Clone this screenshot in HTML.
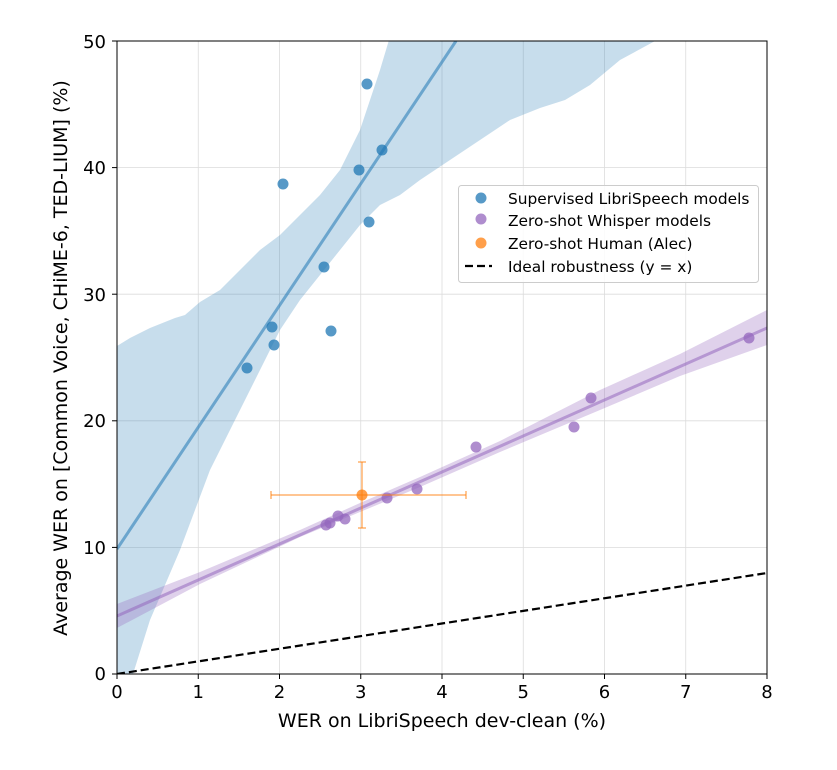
<!DOCTYPE html>
<html><head><style>body{margin:0;background:#fff}svg{display:block}text{font-family:"DejaVu Sans","Liberation Sans",sans-serif;fill:#000}</style></head>
<body>
<svg width="837" height="770" viewBox="0 0 837 770">
<defs><clipPath id="c"><rect x="117" y="41" width="650" height="633"/></clipPath></defs>
<g stroke="#dcdcdc" stroke-width="0.8">
<line x1="198.25" y1="41" x2="198.25" y2="674"/><line x1="279.5" y1="41" x2="279.5" y2="674"/><line x1="360.75" y1="41" x2="360.75" y2="674"/><line x1="442" y1="41" x2="442" y2="674"/><line x1="523.25" y1="41" x2="523.25" y2="674"/><line x1="604.5" y1="41" x2="604.5" y2="674"/><line x1="685.75" y1="41" x2="685.75" y2="674"/>
<line x1="117" y1="547.4" x2="767" y2="547.4"/><line x1="117" y1="420.8" x2="767" y2="420.8"/><line x1="117" y1="294.2" x2="767" y2="294.2"/><line x1="117" y1="167.6" x2="767" y2="167.6"/>
</g>
<g clip-path="url(#c)">
<polygon fill="#1f77b4" fill-opacity="0.25" points="117,346 130,338 150,328 175,318 185,315 200,302 220,290 240,270 260,250 280,235 300,215 320,195 340,170 350,150 360,130 370,100 380,70 392,30 700,30 655,41 620,60 590,85 565,100 540,108 510,120 480,140 450,160 420,180 400,195 380,205 360,225 340,250 320,275 300,300 280,330 260,370 240,410 210,470 180,550 150,620 133,674 117,700"/>
<line x1="117" y1="549" x2="456" y2="41" stroke="#1f77b4" stroke-opacity="0.55" stroke-width="3"/>
<polygon fill="#9467bd" fill-opacity="0.3" points="117,604 200,572 300,530 360,503 420,477 500,441 600,390 680,354 767,310 767,345 680,376 600,410 500,452 420,487 360,512 300,537 200,584 117,628"/>
<line x1="117" y1="616" x2="767" y2="328" stroke="#9467bd" stroke-opacity="0.55" stroke-width="3"/>
<line x1="117" y1="674" x2="767" y2="573" stroke="#000" stroke-width="2.2" stroke-dasharray="8,4"/>
</g>
<g fill="#1f77b4" fill-opacity="0.75">
<circle cx="247" cy="368" r="5.5"/><circle cx="272" cy="327" r="5.5"/><circle cx="274" cy="345" r="5.5"/><circle cx="283" cy="184" r="5.5"/><circle cx="324" cy="267" r="5.5"/><circle cx="331" cy="331" r="5.5"/><circle cx="359" cy="170" r="5.5"/><circle cx="367" cy="84" r="5.5"/><circle cx="369" cy="222" r="5.5"/><circle cx="382" cy="150" r="5.5"/>
</g>
<g fill="#9467bd" fill-opacity="0.75">
<circle cx="326" cy="525" r="5.5"/><circle cx="330" cy="523" r="5.5"/><circle cx="338" cy="516" r="5.5"/><circle cx="345" cy="519" r="5.5"/><circle cx="387" cy="498" r="5.5"/><circle cx="417" cy="489" r="5.5"/><circle cx="476" cy="447" r="5.5"/><circle cx="574" cy="427" r="5.5"/><circle cx="591" cy="398" r="5.5"/><circle cx="749" cy="338" r="5.5"/>
</g>
<g stroke="#ff7f0e" stroke-opacity="0.6" stroke-width="1.5">
<line x1="271" y1="495" x2="466" y2="495"/><line x1="271" y1="491" x2="271" y2="499"/><line x1="466" y1="491" x2="466" y2="499"/>
<line x1="362" y1="462" x2="362" y2="528"/><line x1="358" y1="462" x2="366" y2="462"/><line x1="358" y1="528" x2="366" y2="528"/>
</g>
<circle cx="362" cy="495" r="5.5" fill="#ff7f0e" fill-opacity="0.75"/>
<rect x="117" y="41" width="650" height="633" fill="none" stroke="#000" stroke-width="1"/>
<g stroke="#000" stroke-width="1">
<line x1="117" y1="674" x2="117" y2="679"/><line x1="198.25" y1="674" x2="198.25" y2="679"/><line x1="279.5" y1="674" x2="279.5" y2="679"/><line x1="360.75" y1="674" x2="360.75" y2="679"/><line x1="442" y1="674" x2="442" y2="679"/><line x1="523.25" y1="674" x2="523.25" y2="679"/><line x1="604.5" y1="674" x2="604.5" y2="679"/><line x1="685.75" y1="674" x2="685.75" y2="679"/><line x1="767" y1="674" x2="767" y2="679"/>
<line x1="112" y1="674" x2="117" y2="674"/><line x1="112" y1="547.4" x2="117" y2="547.4"/><line x1="112" y1="420.8" x2="117" y2="420.8"/><line x1="112" y1="294.2" x2="117" y2="294.2"/><line x1="112" y1="167.6" x2="117" y2="167.6"/><line x1="112" y1="41" x2="117" y2="41"/>
</g>
<g font-size="18" text-anchor="middle">
<text x="117" y="698">0</text><text x="198.25" y="698">1</text><text x="279.5" y="698">2</text><text x="360.75" y="698">3</text><text x="442" y="698">4</text><text x="523.25" y="698">5</text><text x="604.5" y="698">6</text><text x="685.75" y="698">7</text><text x="767" y="698">8</text>
</g>
<g font-size="18" text-anchor="end">
<text x="106" y="680">0</text><text x="106" y="554">10</text><text x="106" y="427">20</text><text x="106" y="301">30</text><text x="106" y="174">40</text><text x="106" y="48">50</text>
</g>
<text x="442" y="727" font-size="19" text-anchor="middle">WER on LibriSpeech dev-clean (%)</text>
<text transform="translate(67,358) rotate(-90)" font-size="19" text-anchor="middle">Average WER on [Common Voice, CHiME-6, TED-LIUM] (%)</text>
<rect x="458.5" y="185.5" width="300" height="97" rx="3" fill="#fff" fill-opacity="0.85" stroke="#ccc"/>
<circle cx="481" cy="198" r="5.5" fill="#1f77b4" fill-opacity="0.75"/>
<circle cx="481" cy="219" r="5.5" fill="#9467bd" fill-opacity="0.75"/>
<circle cx="481" cy="243" r="5.5" fill="#ff7f0e" fill-opacity="0.75"/>
<line x1="465" y1="266" x2="492" y2="266" stroke="#000" stroke-width="2.2" stroke-dasharray="8,4"/>
<g font-size="15.4">
<text x="508" y="204">Supervised LibriSpeech models</text>
<text x="508" y="226">Zero-shot Whisper models</text>
<text x="508" y="249">Zero-shot Human (Alec)</text>
<text x="508" y="272">Ideal robustness (y = x)</text>
</g>
</svg>
</body></html>
